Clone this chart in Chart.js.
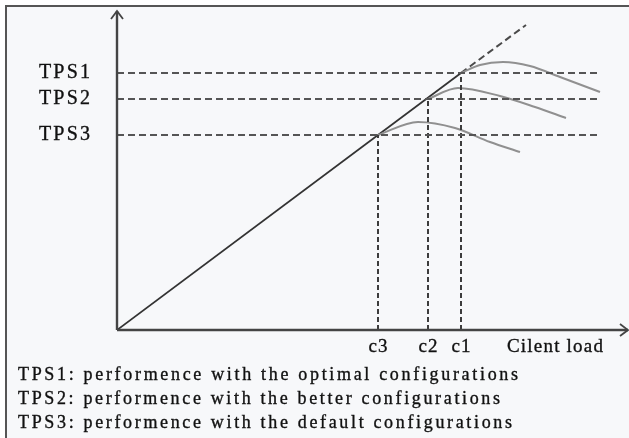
<!DOCTYPE html>
<html>
<head>
<meta charset="utf-8">
<script src="https://cdn.jsdelivr.net/npm/chart.js@4/dist/chart.umd.min.js"></script>
<style>
  html, body { margin: 0; padding: 0; background: #fff; }
  canvas { display: block; }
</style>
</head>
<body>
<canvas id="myChart" width="629" height="438"></canvas>
<script>
// values (x = client load, y = TPS, arbitrary units)
var loadTicks = [26.1, 31.1, 34.4];
var loadLabels = ["c3", "c2", "c1"];
var tpsTicks = [19.5, 23.1, 25.7];
var tpsLabels = ["TPS3", "TPS2", "TPS1"];

var lineX = [0, 34.4];
var lineY = [0, 25.7];
var extX = [34.4, 40.9];
var extY = [25.7, 30.5];

var curve1X = [34.4, 36.3, 38.6, 41.3, 44.3, 48.3];
var curve1Y = [25.7, 26.5, 26.8, 26.4, 25.3, 23.8];
var curve2X = [31.1, 34.1, 38.3, 41.8, 44.9];
var curve2Y = [23.1, 24.2, 23.4, 22.3, 21.2];
var curve3X = [26.1, 30.1, 33.8, 37.3, 40.3];
var curve3Y = [19.5, 20.8, 20.2, 18.8, 17.8];

var hLineEnd = 48.3;
var xMax = 51.1;
var yMax = 31.9;

var legendLines = [
  "TPS1: performence with the optimal configurations",
  "TPS2: performence with the better configurations",
  "TPS3: performence with the default configurations"
];
var xTitle = "Cilent load";

function pts(xs, ys) {
  return xs.map(function (x, i) { return { x: x, y: ys[i] }; });
}

var datasets = [];

// dashed guide lines
tpsTicks.forEach(function (t) {
  datasets.push({
    data: pts([0, hLineEnd], [t, t]),
    borderColor: "#555", borderWidth: 2, borderDash: [7, 4]
  });
});
loadTicks.forEach(function (c, i) {
  datasets.push({
    data: pts([c, c], [0, tpsTicks[i]]),
    borderColor: "#3c3c3c", borderWidth: 2, borderDash: [5, 3]
  });
});

// curves
[[curve1X, curve1Y], [curve2X, curve2Y], [curve3X, curve3Y]].forEach(function (c) {
  datasets.push({
    data: pts(c[0], c[1]),
    borderColor: "#909090", borderWidth: 2,
    cubicInterpolationMode: "monotone"
  });
});

// main line + dashed extension
datasets.push({ data: pts(lineX, lineY), borderColor: "#333", borderWidth: 1.8 });
datasets.push({ data: pts(extX, extY), borderColor: "#4a4a4a", borderWidth: 2, borderDash: [7, 4] });

function drawSpaced(ctx, text, x, y, spacing, align) {
  var total = ctx.measureText(text).width + spacing * (text.length - 1);
  var sx = x;
  if (align === "right") sx = x - total;
  if (align === "center") sx = x - total / 2;
  ctx.textAlign = "left";
  for (var i = 0; i < text.length; i++) {
    ctx.fillText(text[i], sx, y);
    ctx.strokeText(text[i], sx, y);
    sx += ctx.measureText(text[i]).width + spacing;
  }
}

var frame = {
  id: "frame",
  beforeDraw: function (chart) {
    var ctx = chart.ctx;
    ctx.save();
    ctx.fillStyle = "#f7f8fa";
    ctx.fillRect(6, 6, chart.width, chart.height);
    ctx.strokeStyle = "#555";
    ctx.lineWidth = 2;
    ctx.beginPath();
    ctx.moveTo(6, chart.height + 5);
    ctx.lineTo(6, 6);
    ctx.lineTo(chart.width + 5, 6);
    ctx.stroke();
    ctx.restore();
  },
  afterDraw: function (chart) {
    var ctx = chart.ctx;
    var xs = chart.scales.x, ys = chart.scales.y;
    var ox = xs.getPixelForValue(0), oy = ys.getPixelForValue(0);
    var tx = xs.getPixelForValue(xMax), ty = ys.getPixelForValue(yMax);
    ctx.save();
    // axes with arrows
    ctx.strokeStyle = "#444";
    ctx.lineWidth = 2.4;
    ctx.beginPath();
    ctx.moveTo(ox, oy); ctx.lineTo(ox, ty);
    ctx.moveTo(ox, oy); ctx.lineTo(tx, oy);
    ctx.stroke();
    ctx.lineWidth = 1.8;
    ctx.beginPath();
    ctx.moveTo(ox - 6, ty + 8); ctx.lineTo(ox, ty); ctx.lineTo(ox + 6, ty + 8);
    ctx.moveTo(tx - 8, oy - 6); ctx.lineTo(tx, oy); ctx.lineTo(tx - 8, oy + 6);
    ctx.stroke();

    // labels
    ctx.fillStyle = "#111";
    ctx.strokeStyle = "#111";
    ctx.lineWidth = 0.35;
    ctx.textBaseline = "middle";
    ctx.font = "20px 'Liberation Serif', 'Times New Roman', serif";
    tpsTicks.forEach(function (t, i) {
      drawSpaced(ctx, tpsLabels[i], ox - 27, ys.getPixelForValue(t), 2.2, "right");
    });
    ctx.font = "19px 'Liberation Serif', 'Times New Roman', serif";
    loadTicks.forEach(function (c, i) {
      drawSpaced(ctx, loadLabels[i], xs.getPixelForValue(c), oy + 17, 1, "center");
    });
    drawSpaced(ctx, xTitle, 507, oy + 17, 1.2, "left");

    ctx.font = "18px 'Liberation Serif', 'Times New Roman', serif";
    var targets = [500, 482, 494];
    legendLines.forEach(function (s, i) {
      var sp = (targets[i] - ctx.measureText(s).width) / (s.length - 1);
      drawSpaced(ctx, s, 18, 375 + i * 24, sp, "left");
    });
    ctx.restore();
  }
};

var chart = new Chart(document.getElementById("myChart"), {
  type: "line",
  data: { datasets: datasets },
  options: {
    responsive: false,
    animation: false,
    devicePixelRatio: 1,
    layout: { padding: { left: 117, top: 11, right: 1, bottom: 108 } },
    elements: { point: { radius: 0, hoverRadius: 0 }, line: { fill: false } },
    plugins: { legend: { display: false }, tooltip: { enabled: false } },
    scales: {
      x: { type: "linear", min: 0, max: xMax, display: false },
      y: { type: "linear", min: 0, max: yMax, display: false }
    }
  },
  plugins: [frame]
});
</script>
</body>
</html>
